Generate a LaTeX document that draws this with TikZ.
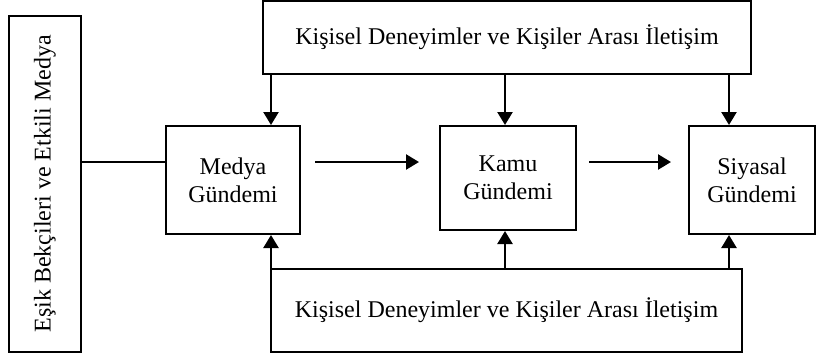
\documentclass[tikz,border=0pt]{standalone}
\usepackage{fontspec}
\setmainfont{Liberation Serif}
\usetikzlibrary{arrows.meta,calc}
\begin{document}
\begin{tikzpicture}[x=1pt,y=-1pt,
  box/.style={draw,line width=2pt,inner sep=0pt,align=center,
    font=\fontsize{24}{28}\selectfont},
  arr/.style={line width=2.4pt,-{Triangle[length=13pt,width=15pt]}},
  ln/.style={line width=2pt}]
\useasboundingbox (0,0) rectangle (816,360);
\node[box,minimum width=72pt,minimum height=336pt] (gate) at (45,184)
  {\rotatebox{90}{Eşik Bekçileri ve Etkili Medya}};
\node[box,minimum width=488pt,minimum height=73pt] (top) at (507,37.5)
  {Kişisel Deneyimler ve Kişiler Arası İletişim};
\node[box,minimum width=471pt,minimum height=83pt] (bot) at (506.5,310.5)
  {Kişisel Deneyimler ve Kişiler Arası İletişim};
\node[box,minimum width=134pt,minimum height=108pt] (medya) at (233,180)
  {Medya\\Gündemi};
\node[box,minimum width=136pt,minimum height=104pt] (kamu) at (508,178)
  {Kamu\\Gündemi};
\node[box,minimum width=126pt,minimum height=108pt] (siyasal) at (752,180)
  {Siyasal\\Gündemi};
\draw[ln] (gate.east |- 0,162) -- (medya.west |- 0,162);
\draw[arr,shorten <=14pt,shorten >=20pt] (medya.east |- 0,162) -- (kamu.west |- 0,162);
\draw[arr,shorten <=12pt,shorten >=17pt] (kamu.east |- 0,162) -- (siyasal.west |- 0,162);
\foreach \x/\n in {271/medya,505/kamu,729/siyasal}{
  \draw[arr] (\x,0 |- top.south) -- (\x,0 |- \n.north);
  \draw[arr] (\x,0 |- bot.north) -- (\x,0 |- \n.south);
}
\end{tikzpicture}
\end{document}
